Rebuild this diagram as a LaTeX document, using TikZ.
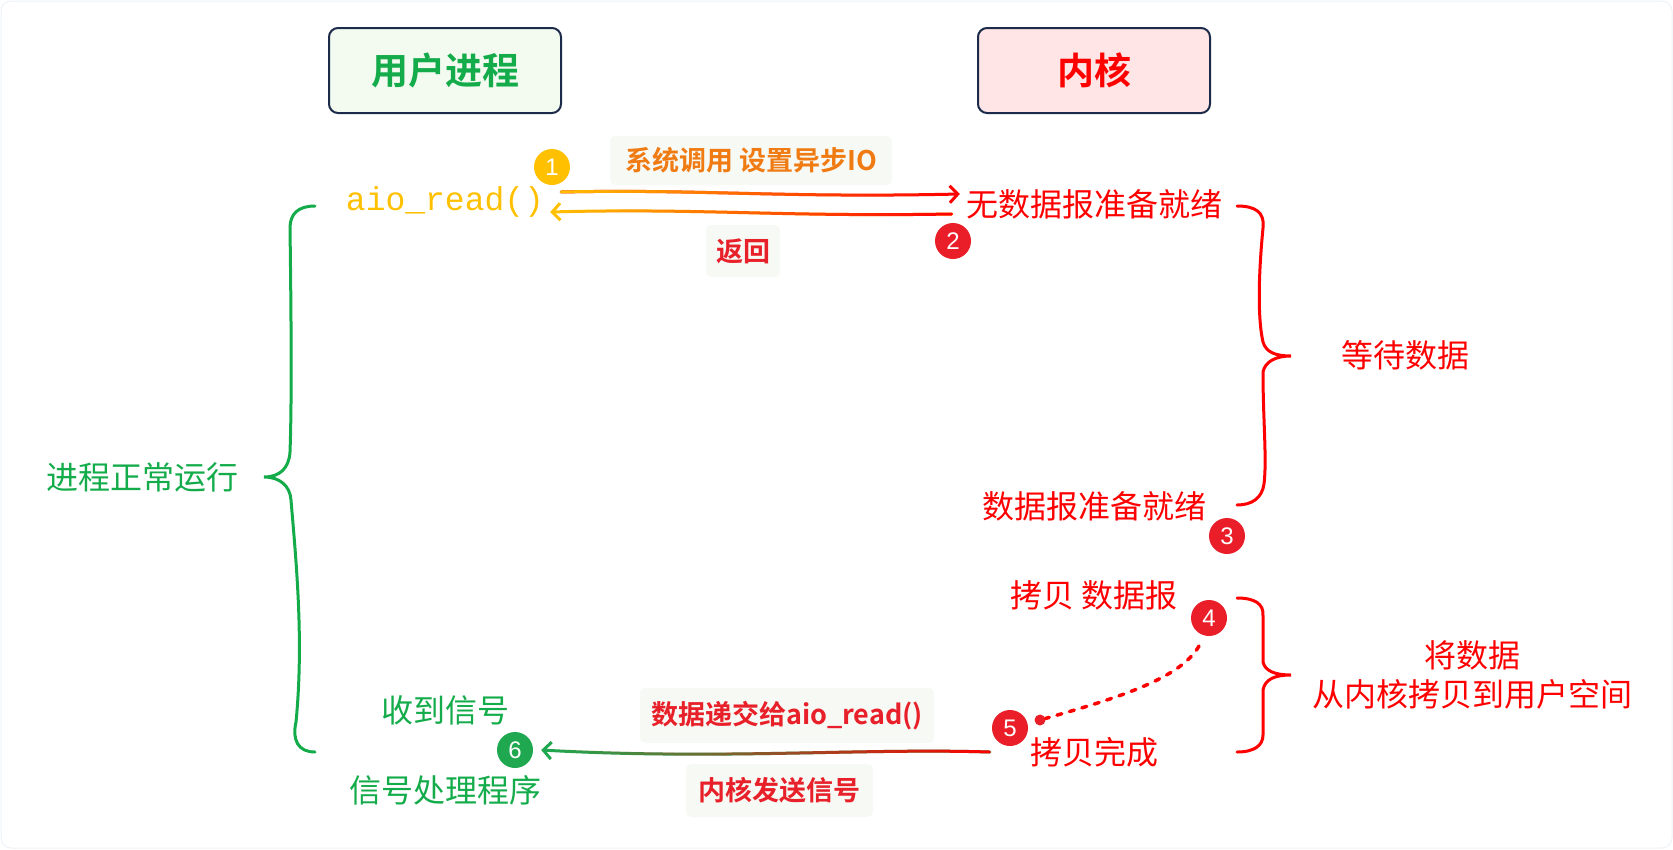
\documentclass[tikz,border=0pt]{standalone}
\usepackage{fontspec}
\setmainfont{Noto Sans CJK SC}
\newfontfamily\cjkb{Noto Sans CJK SC Bold}
\newfontfamily\monof{Liberation Mono}
\newfontfamily\numf{Liberation Sans}
\usetikzlibrary{arrows.meta,fadings,calc}
\definecolor{navy}{HTML}{1C2B4A}
\definecolor{grn}{HTML}{14AC4B}
\definecolor{grnc}{HTML}{1FA84F}
\definecolor{rd}{HTML}{FF0000}
\definecolor{rdc}{HTML}{E91E28}
\definecolor{rdl}{HTML}{E8202A}
\definecolor{amb}{HTML}{FFC000}
\definecolor{org}{HTML}{F07B12}
\definecolor{gbg}{HTML}{F3FAF0}
\definecolor{pbg}{HTML}{FFE5E5}
\definecolor{lblbg}{HTML}{F7F9F4}
\definecolor{framec}{HTML}{EEF2F7}
\tikzfading[name=opaqueleft, left color=transparent!0, right color=transparent!100]
\tikzfading[name=opaqueright, left color=transparent!100, right color=transparent!0]
\begin{document}
\begin{tikzpicture}[x=1pt,y=-1pt,
  hdrbox/.style={draw=navy, line width=2pt, rounded corners=9pt, minimum width=232pt, minimum height=85pt, inner sep=0pt, font=\cjkb\fontsize{37}{40}\selectfont},
  numc/.style={circle, minimum size=36pt, inner sep=0pt, text=white, font=\numf\fontsize{24}{24}\selectfont},
  lbl/.style={fill=lblbg, rounded corners=5pt, inner sep=0pt, font=\cjkb\fontsize{27}{30}\selectfont},
  txt/.style={inner sep=0pt, font=\fontsize{32}{38}\selectfont},
  conn/.style={line width=3pt, line cap=round},
  tip/.style={-{Straight Barb[length=8pt,width=17pt,line width=3pt]}},
  bracestyle/.style={line width=3pt, line cap=round},
]
\useasboundingbox (0,0) rectangle (1673,849);
\draw[draw=framec, line width=1pt, rounded corners=10pt] (1,1) rectangle (1672,848);

% header boxes
\node[hdrbox, fill=gbg, text=grn] (user) at (445,70.5) {用户进程};
\node[hdrbox, fill=pbg, text=rd] (kernel) at (1094,70.5) {内核};

% texts
\node[inner sep=0pt, text=amb, font=\monof\fontsize{33}{38}\selectfont] (aio) at (445,202) {aio\_read()};
\node[txt, text=rd] (nodata) at (1094,204) {无数据报准备就绪};
\node[txt, text=rd] (wait) at (1405,355) {等待数据};
\node[txt, text=rd] (ready) at (1094,506) {数据报准备就绪};
\node[txt, text=rd] (copy) at (1094,595) {拷贝 数据报};
\node[txt, text=rd, align=center, font=\fontsize{32}{39}\selectfont] (copydesc) at (1472,675) {将数据\\从内核拷贝到用户空间};
\node[txt, text=rd] (done) at (1094,752) {拷贝完成};
\node[txt, text=grn] (normal) at (142,477) {进程正常运行};
\node[txt, text=grn] (recv) at (445,710) {收到信号};
\node[txt, text=grn] (handler) at (445,790) {信号处理程序};

% labels
\node[lbl, text=org, minimum width=282pt, minimum height=49pt] (lab1) at (751,160.5) {系统调用 设置异步IO};
\node[lbl, text=rdl, minimum width=74pt, minimum height=52pt] (lab2) at (743,251) {返回};
\node[lbl, text=rdl, minimum width=294pt, minimum height=55pt] (lab3) at (787,715.5) {数据递交给aio\_read()};
\node[lbl, text=rdl, minimum width=187pt, minimum height=53pt] (lab4) at (779.5,790.5) {内核发送信号};

% number circles
\node[numc, fill=amb] (c1) at (552,167) {1};
\node[numc, fill=rdc] (c2) at (953,241) {2};
\node[numc, fill=rdc] (c3) at (1227,536) {3};
\node[numc, fill=rdc] (c4) at (1209,618) {4};
\node[numc, fill=rdc] (c5) at (1010,728) {5};
\node[numc, fill=grnc] (c6) at (515,750) {6};
\node[circle, fill=rdc, minimum size=11pt, inner sep=0pt] (dot) at (1040,720) {};

% connector 1: aio_read -> kernel (yellow to red)
\draw[conn, rd, tip] ([xshift=17pt,yshift=10pt]aio.east) .. controls (700,189) and (780,198) .. ([xshift=-6pt,yshift=10pt]nodata.west);
\draw[conn, amb, path fading=opaqueleft] ([xshift=17pt,yshift=10pt]aio.east) .. controls (700,189) and (780,198) .. ([xshift=-14pt,yshift=10pt]nodata.west);

% connector 2: kernel -> aio_read (return)
\draw[conn, amb, tip] ([xshift=-14pt,yshift=-10pt]nodata.west) .. controls (780,217) and (700,208) .. ([xshift=6pt,yshift=-10pt]aio.east);
\draw[conn, rd, path fading=opaqueright] ([xshift=-14pt,yshift=-10pt]nodata.west) .. controls (780,217) and (700,208) .. ([xshift=14pt,yshift=-10pt]aio.east);

% connector 3: copy done -> signal (red to green)
\draw[conn, grnc, tip] ([xshift=-40pt]done.west) .. controls (860,748) and (720,760) .. ([xshift=8pt]c6.east);
\draw[conn, rd, path fading=opaqueright] ([xshift=-40pt]done.west) .. controls (860,748) and (720,760) .. ([xshift=16pt]c6.east);

% dotted link 4 -> 5
\draw[rd, line width=3.5pt, line cap=round, dash pattern=on 5pt off 8pt] ($(c4)+(-10,28)$) .. controls (1180,680) and (1110,700) .. (dot);

% braces
\draw[bracestyle, rd] (1237,206) .. controls (1255,206) and (1265,212) .. (1263,228)
  .. controls (1258,280) and (1258,320) .. (1263,342)
  .. controls (1266,352) and (1275,356) .. (1291,356)
  .. controls (1275,356) and (1265,362) .. (1263,372)
  .. controls (1263,420) and (1267,460) .. (1264,484)
  .. controls (1262,498) and (1252,505) .. (1237,505);
\draw[bracestyle, rd] (1237,598) .. controls (1255,598) and (1264,604) .. (1263,616)
  -- (1263,662)
  .. controls (1265,671) and (1275,675) .. (1291,675)
  .. controls (1275,675) and (1265,679) .. (1263,690)
  -- (1263,735)
  .. controls (1263,745) and (1255,752) .. (1237,752);
\draw[bracestyle, grn] (315,206) .. controls (298,206) and (290,214) .. (290,228)
  .. controls (291,300) and (292,400) .. (290,452)
  .. controls (289,468) and (280,477) .. (264,477)
  .. controls (280,477) and (290,486) .. (291,500)
  .. controls (296,560) and (304,640) .. (296,722)
  .. controls (292,740) and (298,752) .. (315,752);
\end{tikzpicture}
\end{document}
